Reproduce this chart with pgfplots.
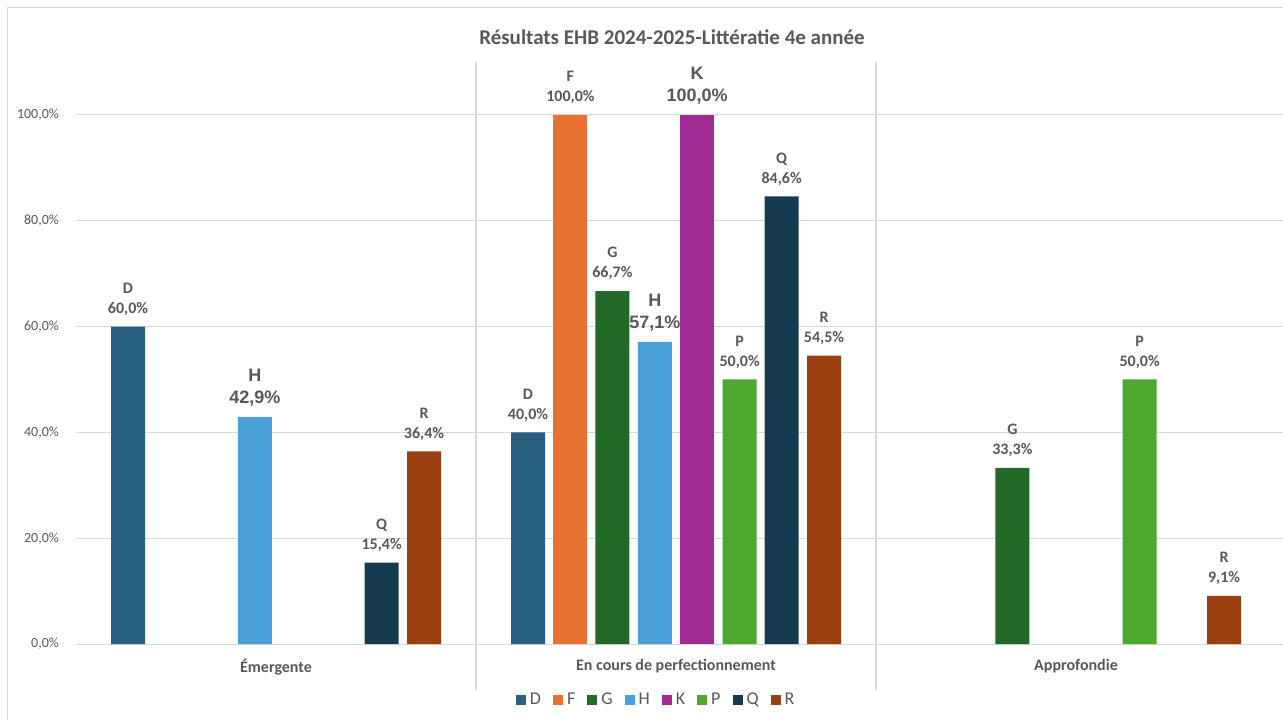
\documentclass[border=0pt]{standalone}
\usepackage{pgfplots}
\pgfplotsset{compat=1.18}
\usepackage{fontspec}
\setmainfont{Carlito}
\newfontfamily\hfont{Liberation Sans}
\definecolor{cD}{HTML}{285F80}
\definecolor{cF}{HTML}{E97132}
\definecolor{cG}{HTML}{236A28}
\definecolor{cH}{HTML}{4AA0D8}
\definecolor{cK}{HTML}{A02B93}
\definecolor{cP}{HTML}{4EA72E}
\definecolor{cQ}{HTML}{163A4F}
\definecolor{cR}{HTML}{9A400F}
\definecolor{labgray}{HTML}{595959}
\definecolor{gridgray}{HTML}{D9D9D9}
\pgfkeys{/pgf/number format/.cd,fixed,fixed zerofill,precision=1,use comma,1000 sep={}}
\begin{document}
\begin{tikzpicture}[x=0.5pt,y=0.5pt]
\useasboundingbox (0,0) rectangle (1283,720);
\fill[white] (0,0) rectangle (1283,720);
\draw[gridgray, line width=0.5pt] (7,0) -- (7,713) -- (1283,713);
\node[font=\bfseries\fontsize{10.5}{12.5}\selectfont, text=labgray] at (672,683) {Résultats EHB 2024-2025-Littératie 4e année};
\begin{axis}[
  at={(38pt,38pt)}, anchor=south west,
  scale only axis, width=603.5pt, height=291pt,
  xmin=-0.5, xmax=2.5175, ymin=0, ymax=110,
  enlargelimits=false, clip=false,
  ybar, bar width=0.085, bar shift=0pt,
  axis line style={draw=none},
  major tick length=0pt,
  xtick={0,1,2},
  xticklabels={Émergente, En cours de perfectionnement, Approfondie},
  xticklabel style={font=\bfseries\fontsize{8}{10}\selectfont, text=labgray, yshift=-4pt},
  ytick={0,20,40,60,80,100},
  yticklabel={\pgfmathprintnumber{\tick}\%},
  /pgf/number format/assume math mode=true,
  yticklabel style={font=\fontsize{7}{9}\selectfont, text=labgray, xshift=-5pt},
  ymajorgrids, grid style={gridgray, line width=0.5pt},
  every axis plot/.append style={draw=none},
  nodes near coords align={vertical},
  every node near coord/.append style={font=\bfseries\fontsize{8}{10}\selectfont, text=labgray, align=center, yshift=2pt},
  legend columns=8,
  legend style={draw=none, fill=none, at={(0.4815,-0.096)}, anchor=center, font=\fontsize{9}{11}\selectfont, text=labgray,
    /tikz/every even column/.append style={column sep=4pt}},
  legend image code/.code={\fill[#1] (0pt,-2.5pt) rectangle (5pt,2.5pt);},
]
\addplot[fill=cD, nodes near coords={D\\\pgfmathprintnumber{\pgfplotspointmeta}\%}] coordinates {(-0.370,60.0) (0.630,40.0)};
\addplot[fill=cF, nodes near coords={F\\\pgfmathprintnumber{\pgfplotspointmeta}\%}] coordinates {(0.736,100.0)};
\addplot[fill=cG, nodes near coords={G\\\pgfmathprintnumber{\pgfplotspointmeta}\%}] coordinates {(0.841,66.7) (1.841,33.3)};
\addplot[fill=cH, nodes near coords={H\\\pgfmathprintnumber{\pgfplotspointmeta}\%},
  every node near coord/.append style={font=\hfont\bfseries\fontsize{9}{11}\selectfont}] coordinates {(-0.053,42.9) (0.947,57.1)};
\addplot[fill=cK, nodes near coords={K\\\pgfmathprintnumber{\pgfplotspointmeta}\%},
  every node near coord/.append style={font=\hfont\bfseries\fontsize{9}{11}\selectfont}] coordinates {(1.053,100.0)};
\addplot[fill=cP, nodes near coords={P\\\pgfmathprintnumber{\pgfplotspointmeta}\%}] coordinates {(1.159,50.0) (2.159,50.0)};
\addplot[fill=cQ, nodes near coords={Q\\\pgfmathprintnumber{\pgfplotspointmeta}\%}] coordinates {(0.264,15.4) (1.264,84.6)};
\addplot[fill=cR, nodes near coords={R\\\pgfmathprintnumber{\pgfplotspointmeta}\%}] coordinates {(0.370,36.4) (1.370,54.5) (2.370,9.1)};
\legend{D,F,G,H,K,P,Q,R}
\draw[gridgray, line width=1pt] (axis cs:0.5,110) -- (axis cs:0.5,-8.7);
\draw[gridgray, line width=1pt] (axis cs:1.5,110) -- (axis cs:1.5,-8.7);
\end{axis}
\end{tikzpicture}
\end{document}
